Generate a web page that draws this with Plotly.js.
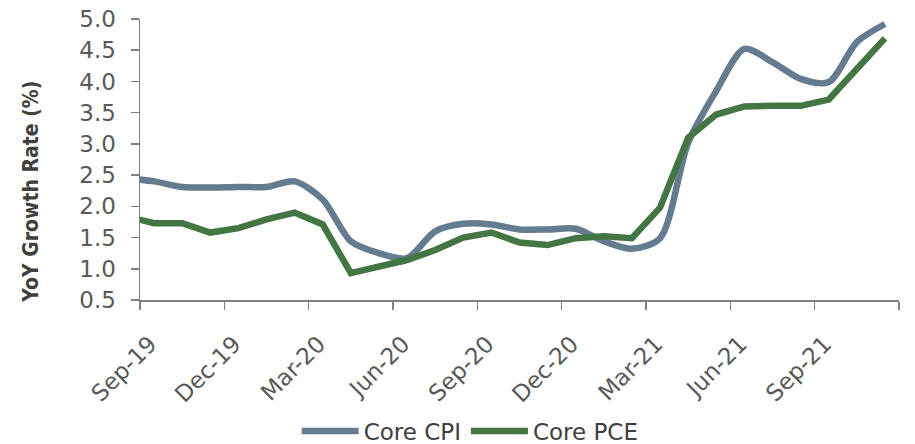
<!DOCTYPE html>
<html>
<head>
<meta charset="utf-8">
<script src="https://cdn.plot.ly/plotly-3.0.1.min.js"></script>
<style>html,body{margin:0;padding:0;background:#fff;}#chart{width:915px;height:444px;}</style>
</head>
<body>
<div id="chart"></div>
<script>
// Monthly observations, Aug-19 .. Nov-21 (Aug-19 sits just left of the axis start)
var months = ["Aug-19","Sep-19","Oct-19","Nov-19","Dec-19","Jan-20","Feb-20","Mar-20","Apr-20","May-20","Jun-20","Jul-20","Aug-20","Sep-20","Oct-20","Nov-20","Dec-20","Jan-21","Feb-21","Mar-21","Apr-21","May-21","Jun-21","Jul-21","Aug-21","Sep-21","Oct-21","Nov-21"];
var coreCPI = [2.45,2.40,2.31,2.30,2.31,2.31,2.40,2.11,1.44,1.25,1.17,1.60,1.72,1.71,1.63,1.63,1.64,1.44,1.32,1.49,3.02,3.85,4.52,4.31,4.04,3.99,4.63,4.92];
var corePCE = [1.84,1.73,1.73,1.58,1.65,1.79,1.90,1.71,0.93,1.03,1.14,1.30,1.50,1.58,1.42,1.38,1.49,1.52,1.49,1.98,3.10,3.47,3.60,3.61,3.61,3.71,4.20,4.69];
var tickLabels = ["Sep-19","Dec-19","Mar-20","Jun-20","Sep-20","Dec-20","Mar-21","Jun-21","Sep-21",""];
var yTickVals = [0.5,1.0,1.5,2.0,2.5,3.0,3.5,4.0,4.5,5.0];
var yTitle = "YoY Growth Rate (%)";

// month index: Sep-19 starts at 0, points sit mid-month
var xs = months.map(function(m, i){ return i - 1 + 0.5; });
var tickVals = tickLabels.map(function(t, i){ return i * 3; });

var font = "'DejaVu Sans', 'Liberation Sans', Arial, sans-serif";
var traces = [
  {x: xs, y: coreCPI, name: "Core CPI", type: "scatter", mode: "lines",
   line: {color: "#647b90", width: 6.5, shape: "spline", smoothing: 0.8}},
  {x: xs, y: corePCE, name: "Core PCE", type: "scatter", mode: "lines",
   line: {color: "#437642", width: 6.5}}
];
var layout = {
  width: 915, height: 444,
  margin: {l: 140, r: 16, t: 19, b: 144},
  paper_bgcolor: "#fff", plot_bgcolor: "#fff",
  font: {family: font, color: "#595959", size: 22},
  showlegend: true,
  legend: {orientation: "h", x: 0.435, xanchor: "center", yref: "container", y: 0.029, yanchor: "middle",
           font: {size: 23, color: "#404040", family: font}, itemwidth: 57, tracegroupgap: 0},
  xaxis: {
    range: [0, 27], tickmode: "array", tickvals: tickVals, ticktext: tickLabels,
    tickangle: -45, ticks: "outside", ticklen: 8, tickcolor: "#808080", tickwidth: 1.5,
    showline: true, linecolor: "#808080", linewidth: 1.5, showgrid: false, zeroline: false,
    tickfont: {size: 23, color: "#595959"}, automargin: false,
    ticklabelstandoff: 12, ticklabelshift: 10
  },
  yaxis: {
    range: [0.5, 5.0], tickmode: "array",
    tickvals: yTickVals,
    ticktext: yTickVals.map(function(v){ return v.toFixed(1); }),
    ticks: "outside", ticklen: 8, tickcolor: "#808080", tickwidth: 1.5,
    showline: true, linecolor: "#808080", linewidth: 1.5, showgrid: false, zeroline: false,
    tickfont: {size: 23, color: "#595959"}, automargin: false, ticklabelstandoff: 10
  },
  annotations: [{
    text: "<b>" + yTitle + "</b>", textangle: -90, showarrow: false,
    xref: "paper", yref: "paper", x: 0, y: 0.385, xanchor: "center", yanchor: "middle",
    xshift: -109, font: {size: 21, color: "#404040", family: "'DejaVu Sans Condensed', 'Liberation Sans Narrow', Arial, sans-serif"}
  }]
};
Plotly.newPlot("chart", traces, layout, {displayModeBar: false, staticPlot: true});
</script>
</body>
</html>
